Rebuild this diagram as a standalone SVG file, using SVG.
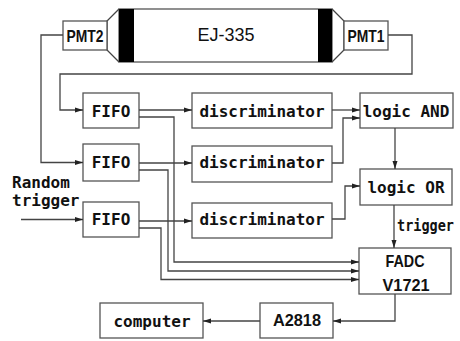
<svg xmlns="http://www.w3.org/2000/svg" width="460" height="341" viewBox="0 0 460 341">
<defs>
<marker id="ah" viewBox="0 0 8 6" refX="8" refY="3" markerWidth="8" markerHeight="6" markerUnits="userSpaceOnUse" orient="auto">
<path d="M0,0.5 L8,3 L0,5.5 Z" fill="#222"/>
</marker>
<style>
.box{fill:#fff;stroke:#555;stroke-width:1.3}
.ln{fill:none;stroke:#444;stroke-width:1.3}
.ar{fill:none;stroke:#444;stroke-width:1.3;marker-end:url(#ah)}
.m{font-family:"DejaVu Sans Mono","Liberation Mono",monospace;font-weight:bold;font-size:16px;fill:#111;text-anchor:middle}
.s{font-family:"Liberation Sans",Arial,sans-serif;font-weight:bold;font-size:17px;fill:#111;text-anchor:middle}
</style>
</defs>
<rect width="460" height="341" fill="#fff"/>
<g id="scintillator">
<rect x="119" y="9" width="213" height="53" class="box"/>
<rect x="119" y="9" width="15" height="53" fill="#000"/>
<rect x="318" y="9" width="14" height="53" fill="#000"/>
<polyline points="119,9 107,21 107,50 119,62" class="ln"/>
<polyline points="332,9 344,21 344,50 332,62" class="ln"/>
<text x="226" y="41" font-family="Liberation Sans,Arial,sans-serif" font-size="18" fill="#111" text-anchor="middle">EJ-335</text>
</g>
<g id="pmt2"><rect x="63" y="21" width="44" height="29" class="box"/><text x="85" y="42" class="s" textLength="37" lengthAdjust="spacingAndGlyphs">PMT2</text></g>
<g id="pmt1"><rect x="344" y="21" width="44" height="29" class="box"/><text x="366" y="42" class="s" textLength="37" lengthAdjust="spacingAndGlyphs">PMT1</text></g>
<g id="fifo1"><rect x="83" y="93" width="56" height="35" class="box"/><text x="111" y="116.5" class="m">FIFO</text></g>
<g id="fifo2"><rect x="83" y="144" width="56" height="37" class="box"/><text x="111" y="168" class="m">FIFO</text></g>
<g id="fifo3"><rect x="83" y="202" width="56" height="35" class="box"/><text x="111" y="225" class="m">FIFO</text></g>
<g id="disc1"><rect x="192" y="93" width="140" height="35" class="box"/><text x="262" y="116.5" class="m">discriminator</text></g>
<g id="disc2"><rect x="192" y="146" width="140" height="36" class="box"/><text x="262" y="168" class="m">discriminator</text></g>
<g id="disc3"><rect x="192" y="203" width="140" height="35" class="box"/><text x="262" y="225" class="m">discriminator</text></g>
<g id="and"><rect x="360" y="93" width="93" height="35" class="box"/><text x="406" y="116.5" class="m">logic AND</text></g>
<g id="or"><rect x="360" y="169" width="92" height="36" class="box"/><text x="406" y="193" class="m">logic OR</text></g>
<g id="fadc"><rect x="359" y="248" width="92" height="46" class="box"/><text x="405" y="267" class="s" textLength="39" lengthAdjust="spacingAndGlyphs">FADC</text><text x="406" y="291" class="s" textLength="47" lengthAdjust="spacingAndGlyphs">V1721</text></g>
<g id="a2818"><rect x="260" y="303" width="73" height="35" class="box"/><text x="297" y="326" class="s" textLength="48" lengthAdjust="spacingAndGlyphs">A2818</text></g>
<g id="computer"><rect x="100" y="303" width="103" height="35" class="box"/><text x="152" y="327" class="m">computer</text></g>
<g id="labels">
<text x="12" y="188" class="m" style="text-anchor:start">Random</text>
<text x="12" y="206" class="m" style="text-anchor:start">trigger</text>
<text x="397" y="231" class="m" style="text-anchor:start;font-size:15px" textLength="57" lengthAdjust="spacingAndGlyphs">trigger</text>
</g>
<g id="connectors">
<polyline points="63,35 41,35 41,162.5 83,162.5" class="ar"/>
<polyline points="388,35 412,35 412,74 60,74 60,110 83,110" class="ar"/>
<line x1="21" y1="219.5" x2="83" y2="219.5" class="ar"/>
<line x1="139" y1="110" x2="192" y2="110" class="ar"/>
<line x1="139" y1="163" x2="192" y2="163" class="ar"/>
<line x1="139" y1="221" x2="192" y2="221" class="ar"/>
<polyline points="139,117 174,117 174,262 359,262" class="ar"/>
<polyline points="139,170 168,170 168,271 359,271" class="ar"/>
<polyline points="139,228 161,228 161,279.5 359,279.5" class="ar"/>
<line x1="332" y1="110" x2="360" y2="110" class="ar"/>
<polyline points="332,163 343,163 343,118 360,118" class="ar"/>
<polyline points="332,219 345,219 345,186 360,186" class="ar"/>
<line x1="395" y1="128" x2="395" y2="169" class="ar"/>
<line x1="394" y1="205" x2="394" y2="248" class="ar"/>
<polyline points="395,294 395,321 333,321" class="ar"/>
<line x1="260" y1="321" x2="203" y2="321" class="ar"/>
</g>
</svg>
